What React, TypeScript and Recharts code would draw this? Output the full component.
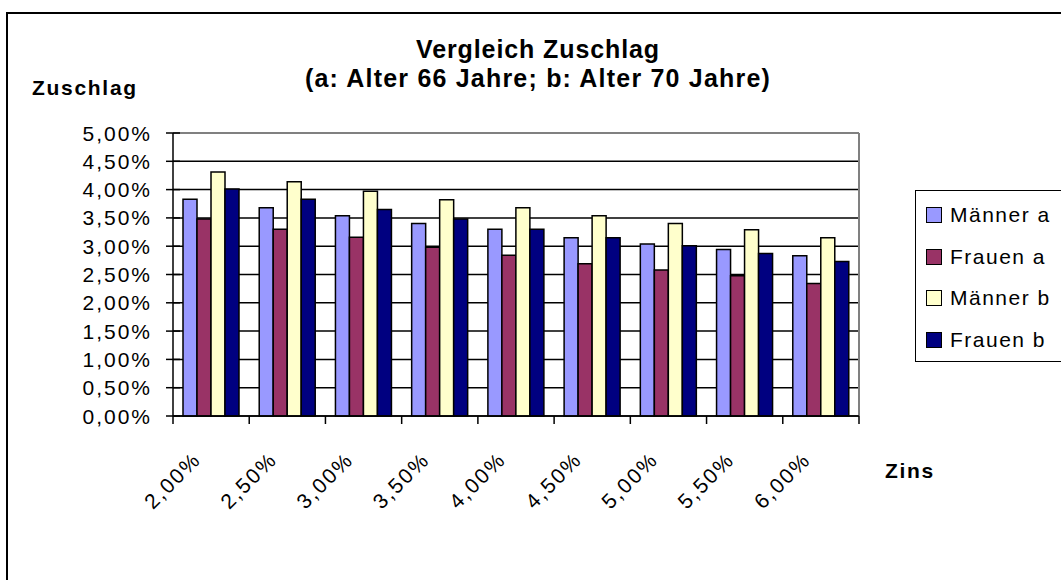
import { BarChart, Bar, XAxis, YAxis, CartesianGrid } from "recharts";

const zinsLabels = ["2,00%", "2,50%", "3,00%", "3,50%", "4,00%", "4,50%", "5,00%", "5,50%", "6,00%"];
const maennerA = [3.83, 3.68, 3.54, 3.4, 3.3, 3.15, 3.04, 2.94, 2.83];
const frauenA = [3.48, 3.3, 3.16, 2.98, 2.84, 2.69, 2.58, 2.48, 2.34];
const maennerB = [4.31, 4.14, 3.97, 3.82, 3.68, 3.54, 3.4, 3.29, 3.15];
const frauenB = [4.01, 3.83, 3.65, 3.48, 3.3, 3.15, 3.01, 2.87, 2.73];
const yTicks = [0, 0.5, 1, 1.5, 2, 2.5, 3, 3.5, 4, 4.5, 5];

const series = [
  { key: "maennerA", name: "Männer a", color: "#9999FF" },
  { key: "frauenA", name: "Frauen a", color: "#993366" },
  { key: "maennerB", name: "Männer b", color: "#FFFFCC" },
  { key: "frauenB", name: "Frauen b", color: "#000080" },
];

const data = zinsLabels.map((zins, i) => ({
  zins,
  maennerA: maennerA[i],
  frauenA: frauenA[i],
  maennerB: maennerB[i],
  frauenB: frauenB[i],
}));

const W = 1061;
const H = 580;
const margin = { top: 133, right: 202, bottom: 104, left: 113 };
const Y_AXIS_W = 60;
const X_AXIS_H = 60;
const plotW = W - margin.left - Y_AXIS_W - margin.right;
const band = plotW / zinsLabels.length;

const font = "'Liberation Sans', Arial, sans-serif";

const fmt = (v: number) => v.toFixed(2).replace(".", ",") + "%";

function YTick(props: any) {
  const { x, y, payload } = props;
  return (
    <g>
      <line x1={x - 7} x2={x + 7} y1={y} y2={y} stroke="#000" strokeWidth={1.5} />
      <text
        x={x - 21}
        y={y}
        dy="0.36em"
        textAnchor="end"
        fontFamily={font}
        fontSize={21}
        letterSpacing={2}
        fill="#000"
      >
        {fmt(payload.value)}
      </text>
    </g>
  );
}

function XTick(props: any) {
  const { x, y, payload, index } = props;
  const left = x - band / 2;
  return (
    <g>
      <line x1={left} x2={left} y1={y} y2={y + 8} stroke="#000" strokeWidth={1.5} />
      {index === zinsLabels.length - 1 && (
        <line x1={x + band / 2} x2={x + band / 2} y1={y} y2={y + 8} stroke="#000" strokeWidth={1.5} />
      )}
      <text
        x={x - 9}
        y={y + 45}
        textAnchor="end"
        transform={`rotate(-45, ${x - 9}, ${y + 45})`}
        fontFamily={font}
        fontSize={21}
        letterSpacing={2}
        fill="#000"
      >
        {payload.value}
      </text>
    </g>
  );
}

export default function App() {
  return (
    <div style={{ position: "absolute", left: 0, top: 0, width: W, height: H, overflow: "hidden", background: "#fff" }}>
      <div
        style={{
          position: "absolute",
          left: 6,
          top: 12,
          width: 1200,
          height: 700,
          borderTop: "2px solid #000",
          borderLeft: "2px solid #000",
        }}
      />
      <BarChart
        width={W}
        height={H}
        data={data}
        margin={margin}
        barCategoryGap={10}
        barGap={0}
        style={{ position: "absolute", left: 0, top: 0 }}
      >
        <CartesianGrid vertical={false} stroke="#000" strokeWidth={1.5} />
        <CartesianGrid
          stroke="#808080"
          strokeWidth={2}
          horizontalCoordinatesGenerator={({ offset }: any) => [offset.top]}
          verticalCoordinatesGenerator={({ offset }: any) => [offset.left + offset.width]}
        />
        <XAxis
          dataKey="zins"
          height={X_AXIS_H}
          tickLine={false}
          tickSize={0}
          tickMargin={0}
          stroke="#000"
          strokeWidth={1.5}
          interval={0}
          tick={<XTick />}
        />
        <YAxis
          width={Y_AXIS_W}
          domain={[0, 5]}
          ticks={yTicks}
          tickLine={false}
          tickSize={0}
          tickMargin={0}
          stroke="#000"
          strokeWidth={1.5}
          interval={0}
          tick={<YTick />}
        />
        {series.map((s) => (
          <Bar
            key={s.key}
            dataKey={s.key}
            name={s.name}
            fill={s.color}
            stroke="#000"
            strokeWidth={1.5}
            isAnimationActive={false}
          />
        ))}
      </BarChart>
      <svg width={W} height={H} style={{ position: "absolute", left: 0, top: 0, pointerEvents: "none" }}>
        <text x={538} y={58} textAnchor="middle" fontFamily={font} fontSize={25} fontWeight="bold" letterSpacing={0.9}>
          Vergleich Zuschlag
        </text>
        <text x={538} y={87} textAnchor="middle" fontFamily={font} fontSize={25} fontWeight="bold" letterSpacing={1.2}>
          (a: Alter 66 Jahre; b: Alter 70 Jahre)
        </text>
        <text x={32} y={95} fontFamily={font} fontSize={21} fontWeight="bold" letterSpacing={1.7}>
          Zuschlag
        </text>
        <text x={885} y={478} fontFamily={font} fontSize={21} fontWeight="bold" letterSpacing={1.7}>
          Zins
        </text>
      </svg>
      <div
        style={{
          position: "absolute",
          left: 915,
          top: 190,
          width: 200,
          height: 170,
          border: "1.5px solid #000",
          fontFamily: font,
          fontSize: 21,
          letterSpacing: 1.5,
        }}
      >
        {series.map((s, i) => (
          <div
            key={s.key}
            style={{ position: "absolute", left: 10, top: 12 + i * 41.7, height: 24, display: "flex", alignItems: "center" }}
          >
            <span
              style={{
                display: "inline-block",
                width: 14,
                height: 14,
                background: s.color,
                border: "1.5px solid #000",
                marginRight: 8,
              }}
            />
            <span>{s.name}</span>
          </div>
        ))}
      </div>
    </div>
  );
}
